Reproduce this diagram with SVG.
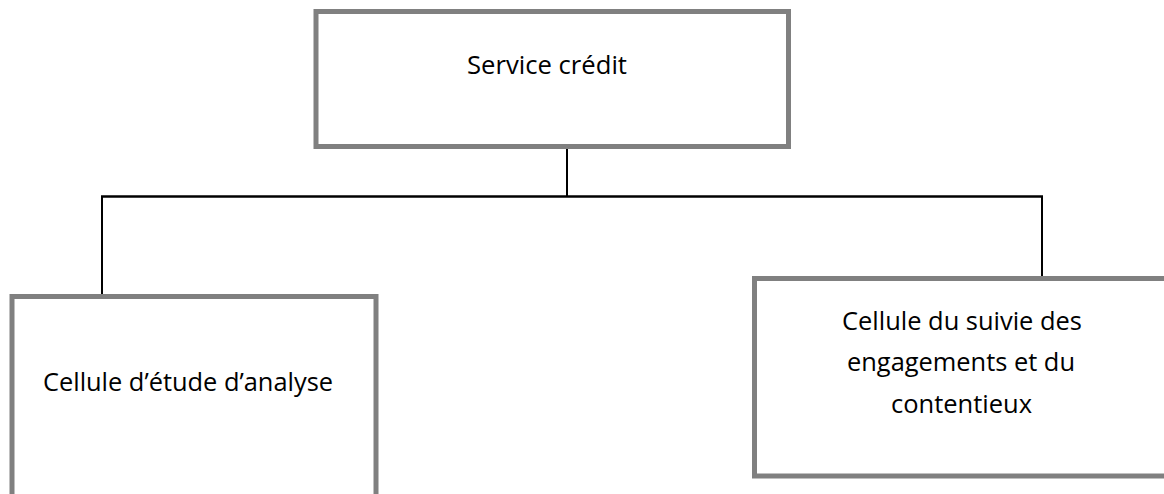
<svg xmlns="http://www.w3.org/2000/svg" width="1164" height="494" viewBox="0 0 1164 494">
<style>
.box{fill:#ffffff;stroke:#808080;stroke-width:5}
.lbl{font-family:"Open Sans","Liberation Sans",sans-serif;font-size:26px;fill:#000000}
.con{stroke:#000000;fill:none}
</style>
<rect width="1164" height="494" fill="#ffffff"/>
<g id="connectors">
<line class="con" x1="567" y1="149" x2="567" y2="196.5" stroke-width="2"/>
<line class="con" x1="101" y1="196.5" x2="1043" y2="196.5" stroke-width="2.5"/>
<line class="con" x1="102" y1="196.5" x2="102" y2="294" stroke-width="2"/>
<line class="con" x1="1042" y1="196.5" x2="1042" y2="276" stroke-width="2"/>
</g>
<g id="node-service-credit">
<rect class="box" x="316" y="11.5" width="472.5" height="135"/>
<text class="lbl" x="467" y="74" textLength="160" lengthAdjust="spacingAndGlyphs">Service crédit</text>
</g>
<g id="node-etude-analyse">
<rect class="box" x="12" y="296.5" width="364" height="240"/>
<text class="lbl" x="43" y="391" textLength="290" lengthAdjust="spacingAndGlyphs">Cellule d’étude d’analyse</text>
</g>
<g id="node-suivi-engagements">
<rect class="box" x="754.5" y="278.5" width="440" height="197.5"/>
<text class="lbl" x="842" y="330" textLength="240" lengthAdjust="spacingAndGlyphs">Cellule du suivie des</text>
<text class="lbl" x="847" y="371" textLength="228" lengthAdjust="spacingAndGlyphs">engagements et du</text>
<text class="lbl" x="891" y="413" textLength="141" lengthAdjust="spacingAndGlyphs">contentieux</text>
</g>
</svg>
